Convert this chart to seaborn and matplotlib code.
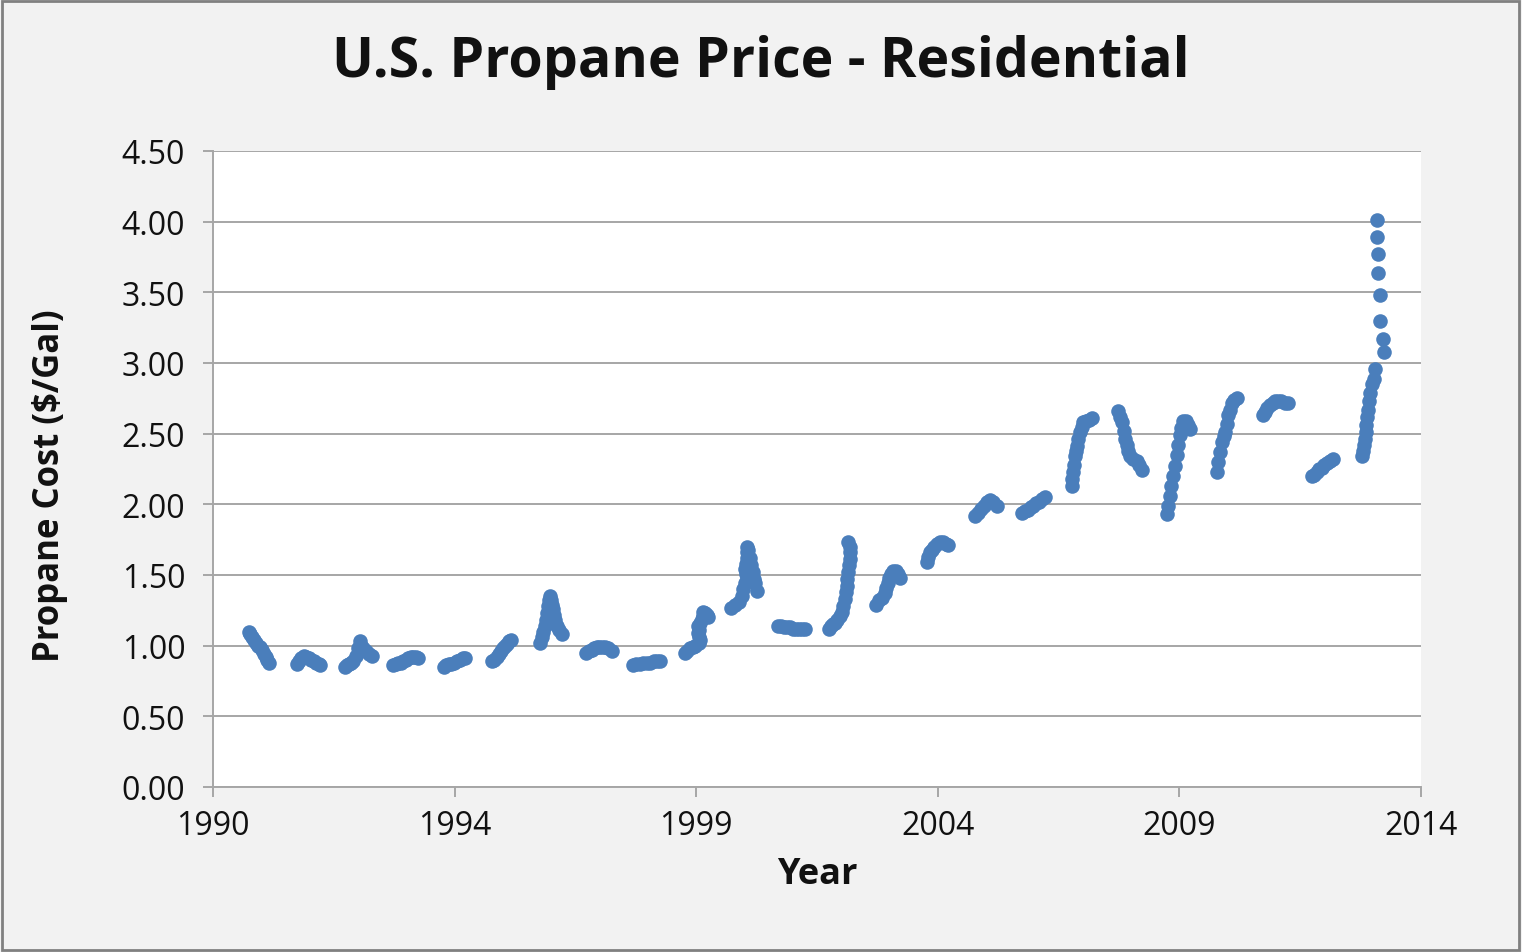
import matplotlib
matplotlib.use("Agg")
import matplotlib.pyplot as plt
import seaborn as sns
import pandas as pd
from matplotlib.patches import Rectangle

# weekly residential propane prices, heating seasons only (decimal year, $/gal)
YEAR = [
    1990.72, 1990.74, 1990.78, 1990.82, 1990.86, 1990.90, 1990.94, 1990.98, 1991.02, 1991.05, 1991.08, 1991.12,
    1991.66, 1991.70, 1991.75, 1991.80, 1991.85, 1991.90, 1991.95, 1992.00, 1992.05, 1992.10, 1992.13,
    1992.62, 1992.66, 1992.70, 1992.75, 1992.79, 1992.85, 1992.89, 1992.92, 1992.95, 1992.99, 1993.04, 1993.10, 1993.15,
    1993.58, 1993.63, 1993.68, 1993.73, 1993.78, 1993.83, 1993.88, 1993.93, 1993.98, 1994.03, 1994.08,
    1994.58, 1994.63, 1994.68, 1994.73, 1994.78, 1994.84, 1994.90, 1994.96, 1995.01,
    1995.54, 1995.59, 1995.64, 1995.68, 1995.72, 1995.76, 1995.80, 1995.84, 1995.88, 1995.93,
    1996.50, 1996.53, 1996.56, 1996.60, 1996.62, 1996.64, 1996.66, 1996.68, 1996.70, 1996.72, 1996.74, 1996.76,
    1996.78, 1996.80, 1996.83, 1996.87, 1996.93,
    1997.42, 1997.47, 1997.52, 1997.57, 1997.62, 1997.67, 1997.72, 1997.79, 1997.85, 1997.92,
    1998.35, 1998.41, 1998.48, 1998.55, 1998.62, 1998.69, 1998.76, 1998.82, 1998.88,
    1999.38, 1999.42, 1999.48, 1999.53, 1999.58, 1999.66, 1999.68, 1999.66, 1999.64, 1999.66, 1999.64, 1999.68,
    1999.71, 1999.73, 1999.74, 1999.78, 1999.81, 1999.84,
    2000.30, 2000.38, 2000.46, 2000.50, 2000.53, 2000.56, 2000.60, 2000.58, 2000.57, 2000.58, 2000.60, 2000.60,
    2000.60, 2000.62, 2000.66, 2000.69, 2000.72, 2000.75, 2000.77, 2000.80,
    2001.23, 2001.29, 2001.35, 2001.41, 2001.47, 2001.53, 2001.59, 2001.65, 2001.71, 2001.76,
    2002.23, 2002.28, 2002.32, 2002.36, 2002.40, 2002.45, 2002.49, 2002.52, 2002.56, 2002.58, 2002.59, 2002.60,
    2002.62, 2002.64, 2002.66, 2002.66, 2002.65, 2002.62,
    2003.18, 2003.24, 2003.30, 2003.35, 2003.38, 2003.41, 2003.44, 2003.47, 2003.51, 2003.56, 2003.61, 2003.65,
    2004.18, 2004.21, 2004.24, 2004.28, 2004.32, 2004.38, 2004.44, 2004.50, 2004.56, 2004.61,
    2005.14, 2005.19, 2005.25, 2005.31, 2005.37, 2005.44, 2005.50, 2005.57,
    2006.07, 2006.13, 2006.19, 2006.25, 2006.30, 2006.36, 2006.42, 2006.48, 2006.53,
    2007.06, 2007.07, 2007.09, 2007.11, 2007.13, 2007.15, 2007.16, 2007.19, 2007.23, 2007.26, 2007.29, 2007.34,
    2007.40, 2007.46,
    2007.99, 2008.02, 2008.06, 2008.09, 2008.12, 2008.15, 2008.18, 2008.22, 2008.28, 2008.35, 2008.40, 2008.45,
    2008.95, 2008.97, 2009.01, 2009.04, 2009.08, 2009.11, 2009.15, 2009.18, 2009.21, 2009.24, 2009.28, 2009.33,
    2009.38, 2009.41,
    2009.94, 2009.97, 2010.01, 2010.04, 2010.08, 2010.11, 2010.14, 2010.17, 2010.20, 2010.24, 2010.29, 2010.34,
    2010.87, 2010.90, 2010.94, 2011.00, 2011.05, 2011.10, 2011.16, 2011.22, 2011.29, 2011.36,
    2011.83, 2011.88, 2011.93, 2011.98, 2012.03, 2012.08, 2012.14, 2012.20, 2012.26,
    2012.82, 2012.84, 2012.86, 2012.88, 2012.90, 2012.91, 2012.93, 2012.95, 2012.97, 2012.99, 2013.03, 2013.06,
    2013.08, 2013.12, 2013.12, 2013.15, 2013.15, 2013.18, 2013.18, 2013.24, 2013.26,
]
PRICE = [
    1.10, 1.08, 1.06, 1.04, 1.02, 1.00, 0.99, 0.97, 0.94, 0.92, 0.90, 0.88,
    0.87, 0.89, 0.91, 0.93, 0.92, 0.91, 0.90, 0.89, 0.88, 0.87, 0.86,
    0.85, 0.86, 0.87, 0.88, 0.89, 0.93, 0.98, 1.03, 1.00, 0.98, 0.96, 0.94, 0.93,
    0.86, 0.87, 0.88, 0.88, 0.89, 0.90, 0.91, 0.92, 0.92, 0.92, 0.91,
    0.85, 0.86, 0.87, 0.87, 0.88, 0.89, 0.90, 0.91, 0.91,
    0.89, 0.90, 0.92, 0.94, 0.96, 0.98, 1.00, 1.01, 1.03, 1.04,
    1.02, 1.06, 1.10, 1.14, 1.18, 1.23, 1.28, 1.32, 1.35, 1.32, 1.29, 1.26,
    1.22, 1.18, 1.14, 1.11, 1.08,
    0.95, 0.96, 0.97, 0.98, 0.99, 0.99, 0.99, 0.99, 0.98, 0.96,
    0.86, 0.87, 0.87, 0.88, 0.88, 0.88, 0.89, 0.89, 0.89,
    0.95, 0.96, 0.98, 0.99, 1.00, 1.02, 1.04, 1.06, 1.09, 1.11, 1.14, 1.16,
    1.19, 1.21, 1.24, 1.23, 1.22, 1.20,
    1.27, 1.29, 1.31, 1.35, 1.40, 1.44, 1.47, 1.51, 1.54, 1.58, 1.62, 1.66,
    1.70, 1.68, 1.62, 1.57, 1.52, 1.47, 1.44, 1.39,
    1.14, 1.14, 1.13, 1.13, 1.13, 1.12, 1.12, 1.12, 1.12, 1.12,
    1.12, 1.14, 1.15, 1.16, 1.18, 1.21, 1.24, 1.28, 1.33, 1.38, 1.42, 1.47,
    1.52, 1.57, 1.61, 1.66, 1.70, 1.73,
    1.29, 1.32, 1.34, 1.37, 1.41, 1.44, 1.48, 1.51, 1.53, 1.53, 1.51, 1.48,
    1.59, 1.63, 1.66, 1.68, 1.70, 1.72, 1.73, 1.73, 1.72, 1.71,
    1.92, 1.94, 1.97, 1.99, 2.02, 2.03, 2.02, 1.99,
    1.94, 1.95, 1.96, 1.98, 1.99, 2.01, 2.02, 2.04, 2.05,
    2.13, 2.18, 2.23, 2.28, 2.34, 2.38, 2.41, 2.46, 2.51, 2.55, 2.58, 2.59,
    2.60, 2.61,
    2.66, 2.62, 2.58, 2.52, 2.46, 2.42, 2.38, 2.34, 2.32, 2.31, 2.28, 2.24,
    1.93, 1.99, 2.06, 2.13, 2.20, 2.27, 2.35, 2.42, 2.49, 2.54, 2.59, 2.59,
    2.56, 2.53,
    2.23, 2.30, 2.37, 2.44, 2.48, 2.51, 2.57, 2.63, 2.67, 2.72, 2.74, 2.75,
    2.63, 2.65, 2.68, 2.70, 2.72, 2.73, 2.73, 2.73, 2.72, 2.72,
    2.20, 2.21, 2.23, 2.25, 2.26, 2.28, 2.29, 2.31, 2.32,
    2.34, 2.38, 2.42, 2.46, 2.51, 2.56, 2.62, 2.67, 2.73, 2.79, 2.85, 2.89,
    2.96, 4.01, 3.89, 3.77, 3.64, 3.48, 3.30, 3.17, 3.08,
]

# x axis is an Excel date axis: 1990..2014 split in 5 equal steps
X_TICKS = [1990.0, 1994.8, 1999.6, 2004.4, 2009.2, 2014.0]
X_TICK_LABELS = ["1990", "1994", "1999", "2004", "2009", "2014"]
Y_TICKS = [0.0, 0.5, 1.0, 1.5, 2.0, 2.5, 3.0, 3.5, 4.0, 4.5]

BLUE = "#4a7ebb"
GRID = "#a6a6a6"

df = pd.DataFrame({"year": YEAR, "price": PRICE})

sns.set_theme(style="white")
plt.rcParams["font.family"] = ["Open Sans", "DejaVu Sans"]

fig = plt.figure(figsize=(15.22, 9.53), dpi=100)
fig.patch.set_facecolor("#f2f2f2")
ax = fig.add_axes([213 / 1522, 1 - 788 / 953, 1208 / 1522, 636 / 953])
ax.set_facecolor("white")

sns.scatterplot(data=df, x="year", y="price", ax=ax, color=BLUE, s=110, linewidth=0, zorder=3)

ax.set_xlim(1990, 2014)
ax.set_ylim(0, 4.5)
ax.set_xticks(X_TICKS)
ax.set_xticklabels(X_TICK_LABELS)
ax.set_yticks(Y_TICKS)
ax.set_yticklabels([f"{v:.2f}" for v in Y_TICKS])
ax.yaxis.grid(True, color=GRID, linewidth=1.4)
ax.xaxis.grid(False)
ax.set_axisbelow(True)

for side in ["top", "right"]:
    ax.spines[side].set_visible(False)
for side in ["left", "bottom"]:
    ax.spines[side].set_color(GRID)
    ax.spines[side].set_linewidth(1.4)

ax.tick_params(axis="y", which="major", direction="out", length=7, width=1.4, color=GRID,
               pad=13, labelsize=23, labelcolor="#111111", left=True)
ax.tick_params(axis="x", which="major", direction="out", length=7, width=1.4, color=GRID,
               pad=9, labelsize=23, labelcolor="#111111", bottom=True)

ax.set_xlabel("Year", fontsize=26, fontweight="bold", color="#111111", va="center")
ax.xaxis.set_label_coords(0.5, -0.137)
ax.set_ylabel("Propane Cost ($/Gal)", fontsize=25, fontweight="bold", color="#111111", va="center")
ax.yaxis.set_label_coords(-0.135, 0.475)

fig.text(0.5, 1 - 62 / 953, "U.S. Propane Price - Residential", ha="center", va="center",
         fontsize=40, fontweight="bold", color="#111111")

# outer chart border
fig.add_artist(Rectangle((0.001, 0.002), 0.997, 0.996, transform=fig.transFigure,
                         fill=False, edgecolor="#808080", linewidth=2))

fig.savefig("out.png", dpi=100, facecolor=fig.get_facecolor())
